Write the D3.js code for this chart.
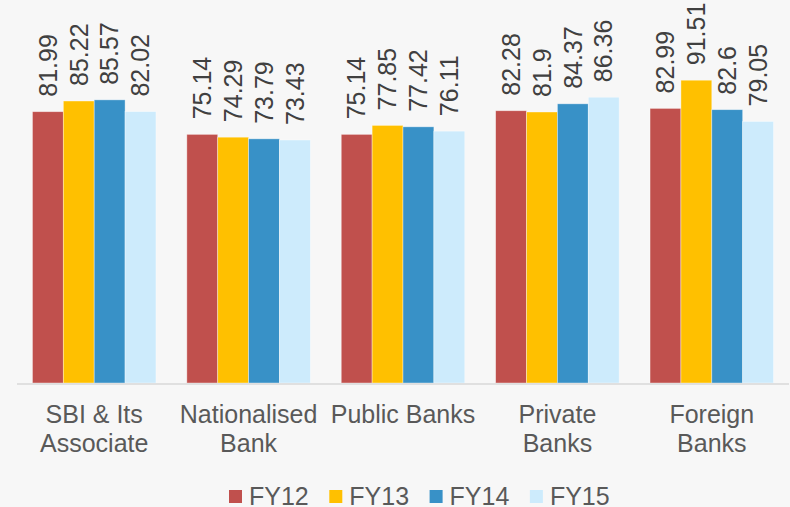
<!DOCTYPE html>
<html>
<head>
<meta charset="utf-8">
<script src="https://cdn.jsdelivr.net/npm/d3@7"></script>
<style>
  html, body { margin: 0; padding: 0; background: #f7f7f7; }
  svg { display: block; font-family: "Liberation Sans", Arial, sans-serif; }
</style>
</head>
<body>
<svg width="790" height="507"></svg>
<script>
const width = 790;
const height = 507;

// data
const categories = [["SBI & Its", "Associate"], ["Nationalised", "Bank"], ["Public Banks"], ["Private", "Banks"], ["Foreign", "Banks"]];
const series = ["FY12", "FY13", "FY14", "FY15"];
const fy12 = [81.99, 75.14, 75.14, 82.28, 82.99];
const fy13 = [85.22, 74.29, 77.85, 81.9, 91.51];
const fy14 = [85.57, 73.79, 77.42, 84.37, 82.6];
const fy15 = [82.02, 73.43, 76.11, 86.36, 79.05];
const colors = ["#c0504d", "#ffc000", "#3891c7", "#cdebfc"];

const values = [fy12, fy13, fy14, fy15];

var svg = d3.select("svg");

var x0 = d3.scaleBand()
    .domain(d3.range(categories.length))
    .range([17, 789])
    .paddingInner(0.2)
    .paddingOuter(0.1);

var x1 = d3.scaleBand()
    .domain(series)
    .range([0, x0.bandwidth()]);

var y = d3.scaleLinear()
    .domain([0, 100])
    .range([383, 52.1]);

var groups = svg.selectAll("g.group")
    .data(categories)
    .enter().append("g")
    .attr("class", "group")
    .attr("transform", function (d, i) { return "translate(" + x0(i) + ",0)"; });

groups.each(function (c, i) {
    var g = d3.select(this);
    var rows = series.map(function (s, k) { return { s: s, v: values[k][i], k: k }; });

    g.selectAll("rect")
        .data(rows)
        .enter().append("rect")
        .attr("x", function (d) { return x1(d.s); })
        .attr("y", function (d) { return y(d.v); })
        .attr("width", x1.bandwidth())
        .attr("height", function (d) { return y(0) - y(d.v); })
        .attr("fill", function (d) { return colors[d.k]; })
        .attr("stroke", "#ffffff")
        .attr("stroke-opacity", 0.5)
        .attr("stroke-width", 0.75);

    g.selectAll("text.val")
        .data(rows)
        .enter().append("text")
        .attr("class", "val")
        .attr("transform", function (d) {
            return "translate(" + (x1(d.s) + x1.bandwidth() / 2) + "," + (y(d.v) - 15) + ") rotate(-90)";
        })
        .attr("dy", "0.35em")
        .attr("font-size", 25)
        .attr("fill", "#404040")
        .text(function (d) { return d.v; });
});

// axis line
svg.append("line")
    .attr("x1", 17).attr("x2", 789)
    .attr("y1", 384).attr("y2", 384)
    .attr("stroke", "#d9d9d9")
    .attr("stroke-width", 1.5);

// category labels
groups.append("text")
    .attr("x", x0.bandwidth() / 2)
    .attr("y", 423)
    .attr("text-anchor", "middle")
    .attr("font-size", 25)
    .attr("fill", "#595959")
    .selectAll("tspan")
    .data(function (d) { return d; })
    .enter().append("tspan")
    .attr("x", x0.bandwidth() / 2)
    .attr("dy", function (d, i) { return i ? 28.5 : 0; })
    .text(function (d) { return d; });

// legend
var legend = svg.append("g").attr("transform", "translate(229,0)");
var item = legend.selectAll("g")
    .data(series)
    .enter().append("g")
    .attr("transform", function (d, i) { return "translate(" + (i * 100.3) + ",0)"; });

item.append("rect")
    .attr("x", 0).attr("y", 490)
    .attr("width", 13).attr("height", 13)
    .attr("fill", function (d, i) { return colors[i]; });

item.append("text")
    .attr("x", 20).attr("y", 505)
    .attr("font-size", 25)
    .attr("fill", "#595959")
    .text(function (d) { return d; });
</script>
</body>
</html>
